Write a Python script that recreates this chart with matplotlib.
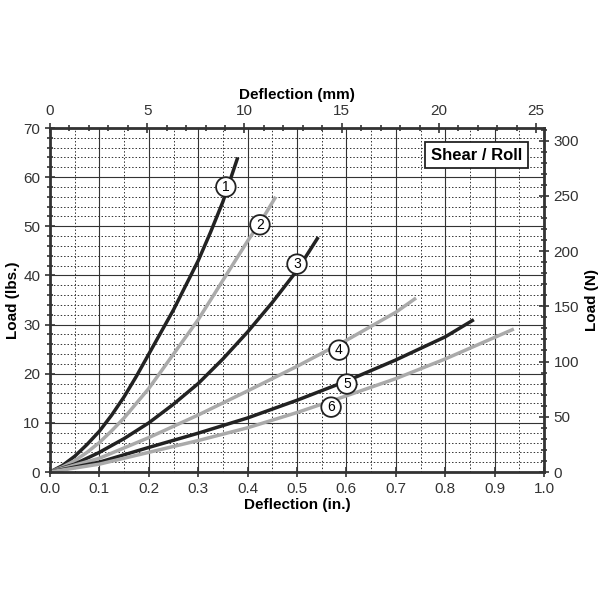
import numpy as np
import matplotlib
matplotlib.use("Agg")
import matplotlib.pyplot as plt
from matplotlib.ticker import MultipleLocator, FormatStrFormatter

plt.rcParams["font.family"] = ["Liberation Sans", "DejaVu Sans"]

# curves: deflection (in.) vs load (lbs.)
c1_x = [0, 0.025, 0.05, 0.075, 0.1, 0.125, 0.15, 0.175, 0.2, 0.225, 0.25, 0.275, 0.3, 0.325, 0.35, 0.38]
c1_y = [0, 1.3, 3.2, 5.6, 8.3, 11.6, 15.3, 19.5, 24, 28.5, 33, 38, 43, 48.8, 55, 64]
c2_x = [0, 0.025, 0.05, 0.075, 0.1, 0.125, 0.15, 0.175, 0.2, 0.25, 0.3, 0.35, 0.4, 0.43, 0.457]
c2_y = [0, 1.0, 2.3, 4.0, 6, 8.4, 11, 14, 17, 24, 31, 39, 47, 51.5, 56]
c3_x = [0, 0.05, 0.1, 0.15, 0.2, 0.25, 0.3, 0.35, 0.4, 0.45, 0.5, 0.543]
c3_y = [0, 1.6, 4, 6.8, 10, 13.8, 18, 23, 28.5, 34.5, 41, 47.8]
c4_x = [0, 0.1, 0.2, 0.3, 0.4, 0.5, 0.6, 0.7, 0.741]
c4_y = [0, 2.8, 7, 11.6, 16.5, 21.5, 26.8, 32.5, 35.4]
c5_x = [0, 0.1, 0.2, 0.3, 0.4, 0.5, 0.6, 0.7, 0.8, 0.858]
c5_y = [0, 2, 5, 7.9, 11, 14.6, 18.5, 22.8, 27.5, 31]
c6_x = [0, 0.1, 0.2, 0.3, 0.4, 0.5, 0.6, 0.7, 0.8, 0.939]
c6_y = [0, 1.6, 4, 6.4, 9, 12.1, 15.5, 19, 23, 29.1]
curves = [(c1_x, c1_y), (c2_x, c2_y), (c3_x, c3_y), (c4_x, c4_y), (c5_x, c5_y), (c6_x, c6_y)]
colors = ["#222222", "#aaaaaa", "#222222", "#aaaaaa", "#222222", "#aaaaaa"]
label_x = [0.356, 0.425, 0.50, 0.585, 0.601, 0.569]
label_y = [58, 50.3, 42.3, 24.8, 17.9, 13.2]

fig = plt.figure(figsize=(6, 6), dpi=100)
ax = fig.add_axes([50 / 600, 1 - 472 / 600, 494 / 600, 344 / 600])

ax.set_xlim(0, 1.0)
ax.set_ylim(0, 70)
ax.xaxis.set_major_locator(MultipleLocator(0.1))
ax.xaxis.set_minor_locator(MultipleLocator(0.05))
ax.xaxis.set_major_formatter(FormatStrFormatter("%.1f"))
ax.yaxis.set_major_locator(MultipleLocator(10))
ax.yaxis.set_minor_locator(MultipleLocator(2))
ax.grid(which="major", color="#333333", lw=0.8)
ax.grid(which="minor", color="#333333", lw=0.7, ls=(0, (1.5, 2)))
ax.set_axisbelow(True)
ax.tick_params(which="both", direction="inout", labelsize=11, colors="#333333")
ax.tick_params(which="major", length=7, width=1.2)
ax.tick_params(which="minor", length=5, width=1.2)
ax.tick_params(axis="x", which="minor", length=0)
for s in ax.spines.values():
    s.set_linewidth(2)
    s.set_color("#333333")

for i, ((xs, ys), c) in enumerate(zip(curves, colors)):
    ax.plot(xs, ys, color=c, lw=2.5, solid_capstyle="butt", solid_joinstyle="round")
    ax.text(label_x[i], label_y[i], str(i + 1), ha="center", va="center", fontsize=10,
            bbox=dict(boxstyle="circle,pad=0.2", fc="white", ec="#222222", lw=1.3), zorder=5)

ax.text(0.955, 64.5, "Shear / Roll", ha="right", va="center", fontsize=12, fontweight="bold",
        bbox=dict(boxstyle="square,pad=0.35", fc="white", ec="#222222", lw=1.3), zorder=5)

ax.set_xlabel("Deflection (in.)", fontsize=11, fontweight="bold", labelpad=2)
ax.set_ylabel("Load (lbs.)", fontsize=11, fontweight="bold", labelpad=2)

top = ax.secondary_xaxis("top", functions=(lambda x: x * 25.4, lambda m: m / 25.4))
top.xaxis.set_major_locator(MultipleLocator(5))
top.xaxis.set_minor_locator(MultipleLocator(1))
top.tick_params(which="both", direction="inout", labelsize=11, colors="#333333", width=1.2)
top.tick_params(which="major", length=7)
top.tick_params(which="minor", length=5)
top.set_xlabel("Deflection (mm)", fontsize=11, fontweight="bold", labelpad=4)

right = ax.secondary_yaxis("right", functions=(lambda l: l * 4.448, lambda n: n / 4.448))
right.yaxis.set_major_locator(MultipleLocator(50))
right.yaxis.set_minor_locator(MultipleLocator(10))
right.tick_params(which="both", direction="inout", labelsize=11, colors="#333333", width=1.2)
right.tick_params(which="major", length=7)
right.tick_params(which="minor", length=5)
right.set_ylabel("Load (N)", fontsize=11, fontweight="bold", labelpad=4)

fig.savefig("out.png", dpi=100)
